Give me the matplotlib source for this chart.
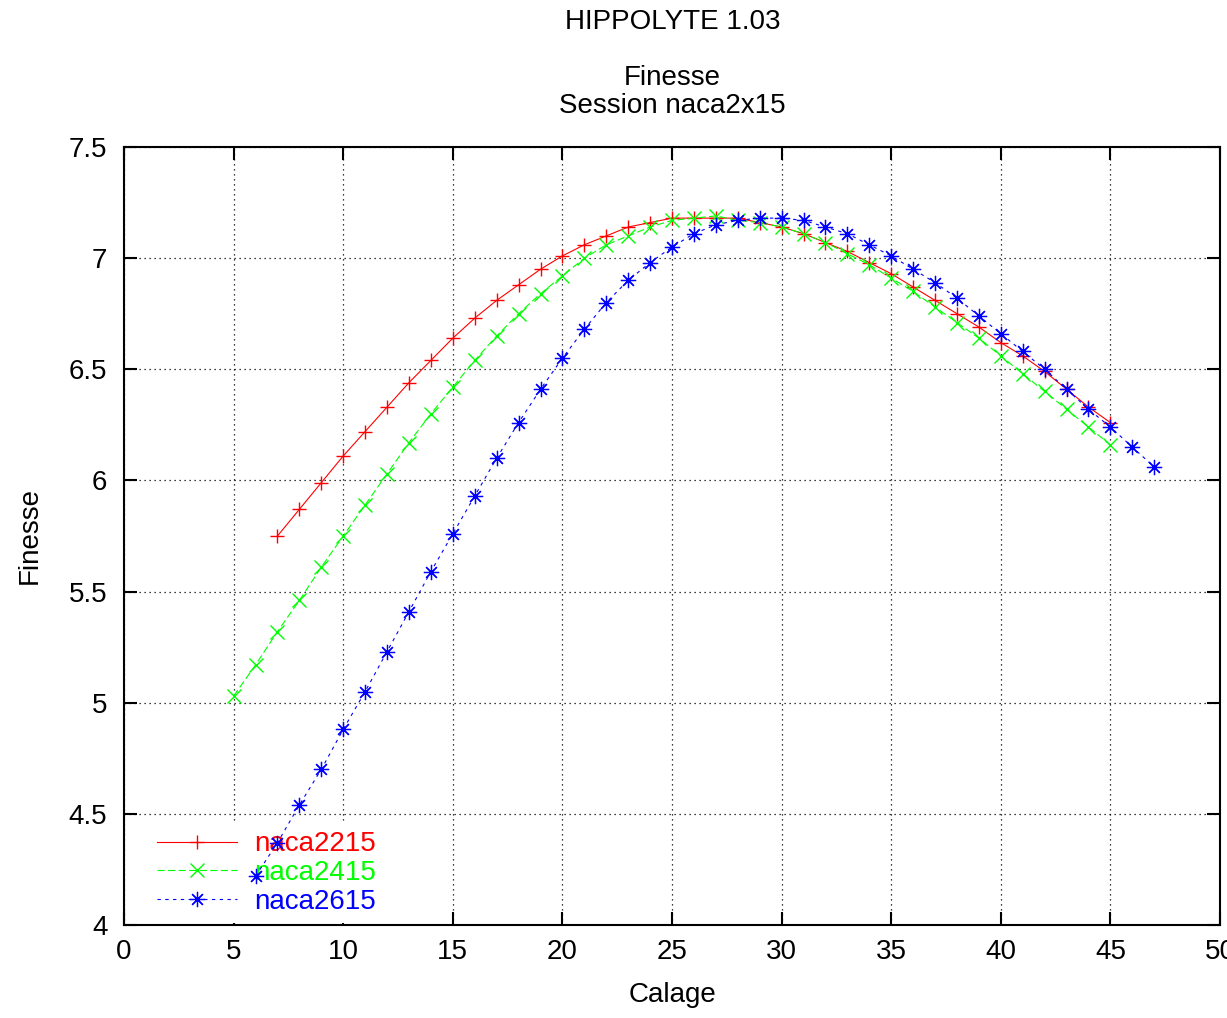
import matplotlib
matplotlib.use("Agg")
import matplotlib.pyplot as plt
from matplotlib.ticker import MultipleLocator

# polar data
calage_2215 = list(range(7, 46))
finesse_2215 = [5.75, 5.87, 5.99, 6.11, 6.22, 6.33, 6.44, 6.54, 6.64, 6.73,
                6.81, 6.88, 6.95, 7.01, 7.06, 7.10, 7.14, 7.16, 7.18, 7.18,
                7.18, 7.18, 7.16, 7.14, 7.11, 7.07, 7.03, 6.98, 6.93, 6.87,
                6.81, 6.75, 6.69, 6.62, 6.56, 6.49, 6.41, 6.33, 6.26]

calage_2415 = list(range(5, 46))
finesse_2415 = [5.03, 5.17, 5.32, 5.46, 5.61, 5.75, 5.89, 6.03, 6.17, 6.30,
                6.42, 6.54, 6.65, 6.75, 6.84, 6.92, 7.00, 7.06, 7.10, 7.14,
                7.17, 7.18, 7.19, 7.17, 7.16, 7.14, 7.11, 7.07, 7.02, 6.97,
                6.91, 6.85, 6.78, 6.71, 6.64, 6.56, 6.48, 6.40, 6.32, 6.24,
                6.16]

calage_2615 = list(range(6, 48))
finesse_2615 = [4.22, 4.37, 4.54, 4.70, 4.88, 5.05, 5.23, 5.41, 5.59, 5.76,
                5.93, 6.10, 6.26, 6.41, 6.55, 6.68, 6.80, 6.90, 6.98, 7.05,
                7.11, 7.15, 7.17, 7.18, 7.18, 7.17, 7.14, 7.11, 7.06, 7.01,
                6.95, 6.89, 6.82, 6.74, 6.66, 6.58, 6.50, 6.41, 6.32, 6.24,
                6.15, 6.06]

plt.rcParams['font.family'] = ['Liberation Sans', 'DejaVu Sans']
plt.rcParams['font.size'] = 20

fig = plt.figure(figsize=(12.27, 10.18), dpi=100)
ax = fig.add_axes([0.1011, 0.0914, 0.8932, 0.7642])

lw = 0.8
ax.plot(calage_2215, finesse_2215, color='#ff0000', lw=lw, marker='+',
        markersize=10, markeredgewidth=1.0, label='naca2215', zorder=3)
ax.plot(calage_2415, finesse_2415, color='#00ff00', lw=lw, marker='x',
        markersize=9.5, markeredgewidth=1.0, dashes=(6.5, 3), label='naca2415', zorder=3)
ax.plot(calage_2615, finesse_2615, color='#0000ff', lw=lw, marker=(8, 2, 0),
        markersize=11, markeredgewidth=0.9, dashes=(3, 4), label='naca2615', zorder=3)

ax.set_xlim(0, 50)
ax.set_ylim(4, 7.5)
ax.xaxis.set_major_locator(MultipleLocator(5))
ax.yaxis.set_major_locator(MultipleLocator(0.5))
ax.set_yticklabels([f"{v:g}" for v in ax.get_yticks()])

ax.tick_params(direction='in', length=9.5, width=1.5, top=True, right=True,
               labeltop=False, labelright=False, pad=10)
ax.tick_params(axis='y', pad=12)
for s in ax.spines.values():
    s.set_linewidth(1.5)

ax.set_axisbelow(True)
ax.grid(True, color='black', linestyle=(0, (1, 3)), linewidth=0.9)

ax.set_xlabel('Calage', labelpad=12)
ax.set_ylabel('Finesse', labelpad=19)

fig.text(0.548, 1 - 22 / 1018, 'HIPPOLYTE 1.03', ha='center', va='center')
fig.text(0.548, 1 - 78 / 1018, 'Finesse', ha='center', va='center')
fig.text(0.548, 1 - 106 / 1018, 'Session naca2x15', ha='center', va='center')

leg = ax.legend(loc='lower left', bbox_to_anchor=(0.0173, -0.005), frameon=True,
                facecolor='white', edgecolor='none', framealpha=1,
                labelcolor='linecolor', handlelength=2.9, handletextpad=0.6,
                labelspacing=0.1, borderpad=0.3, borderaxespad=0.2, fancybox=False)
leg.set_zorder(1.5)

fig.savefig('out.png', dpi=100)
